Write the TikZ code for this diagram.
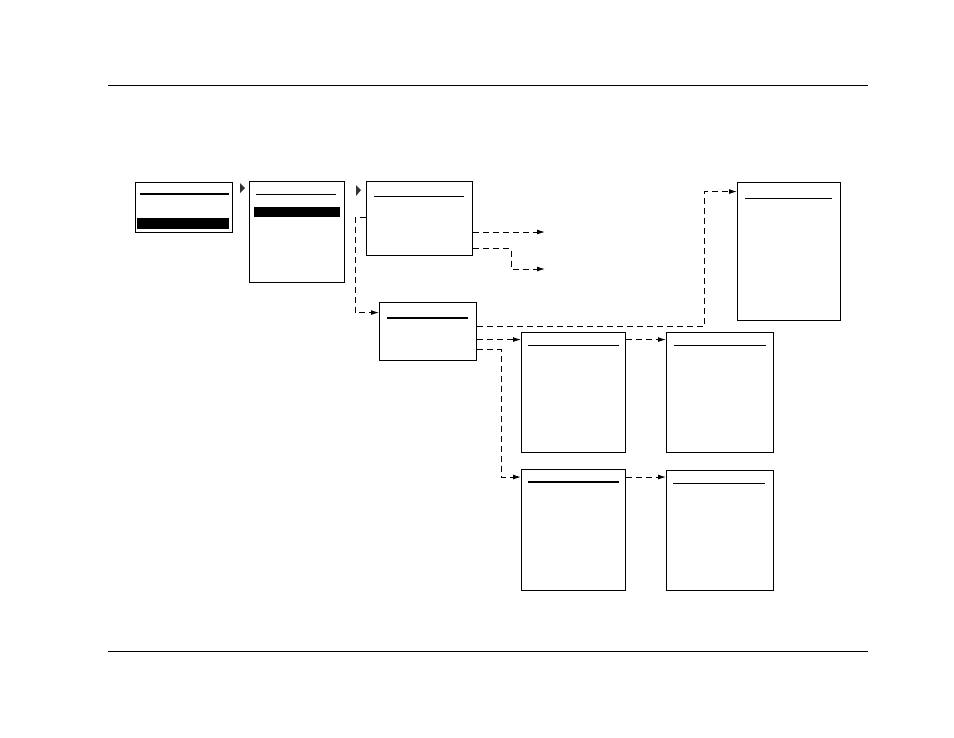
\documentclass[tikz,border=0pt]{standalone}
\usepackage{tikz}
\usetikzlibrary{arrows.meta, positioning, calc}

\begin{document}
\begin{tikzpicture}[
  x=1pt, y=-1pt,
  screen/.style={draw, line width=1.1pt, inner sep=0pt, anchor=north west},
  title/.style={line width=1pt},
  boldtitle/.style={line width=2pt},
  selbar/.style={fill=black},
  marker/.style={fill=black!80},
  link/.style={dash pattern=on 6pt off 4pt, line width=1pt, -{Latex[length=8pt, width=5pt]}},
  rule/.style={line width=0.8pt}
]
\useasboundingbox (0,0) rectangle (954,737);

% Page rules
\draw[rule] (108,85) -- (868,85);
\draw[rule] (108,651) -- (868,651);

% Main menu
\node[screen, minimum width=97pt, minimum height=50pt] (main) at (135,182) {};
\draw[boldtitle] (140,194) -- (229,194);
\fill[selbar] (137,218) rectangle (229,229);

\fill[marker] (240,183) -- (245,188) -- (240,193) -- cycle;

% Sub menu
\node[screen, minimum width=95pt, minimum height=101pt] (sub) at (249,181) {};
\draw[title] (256,194) -- (336,194);
\fill[selbar] (254,207) rectangle (340,217);

\fill[marker] (356,185) -- (361,190) -- (356,196) -- cycle;

% Setup screen
\node[screen, minimum width=106pt, minimum height=74pt] (setup) at (366,181) {};
\draw[title] (374,196) -- (464,196);

\coordinate (outA) at (545,232);
\coordinate (outB) at (545,269);
\draw[link] (setup.east |- outA) -- (outA);
\draw[link] ([yshift=-30]setup.east) -- ++(38,0) |- (outB);

% Options screen
\node[screen, minimum width=97pt, minimum height=58pt] (opts) at (379,302) {};
\draw[boldtitle] (387,318) -- (468,318);

\draw[link] ([yshift=1]setup.west) -- ++(-11,0) |- ([yshift=19]opts.west);

% Detail screens
\node[screen, minimum width=104pt, minimum height=120pt] (edit) at (521,332) {};
\draw[title] (528,345) -- (619,345);

\node[screen, minimum width=107pt, minimum height=120pt] (confirm) at (666,332) {};
\draw[title] (674,345) -- (766,345);

\node[screen, minimum width=104pt, minimum height=121pt] (list) at (521,469) {};
\draw[boldtitle] (528,482) -- (619,482);

\node[screen, minimum width=107pt, minimum height=120pt] (result) at (666,470) {};
\draw[title] (673,483) -- (765,483);

\node[screen, minimum width=103pt, minimum height=138pt] (info) at (737,182) {};
\draw[title] (745,198) -- (832,198);

% Links from options
\draw[link] ([yshift=5]opts.east) -- ++(227,0) |- ([yshift=60]info.west);
\draw[link] ([yshift=-8]opts.east) -- ([yshift=53]edit.west);
\draw[link] ([yshift=-18]opts.east) -- ++(24,0) |- ([yshift=53]list.west);
\draw[link] ([yshift=53]edit.east) -- ([yshift=53]confirm.west);
\draw[link] ([yshift=53]list.east) -- ([yshift=53.5]result.west);

\end{tikzpicture}
\end{document}
